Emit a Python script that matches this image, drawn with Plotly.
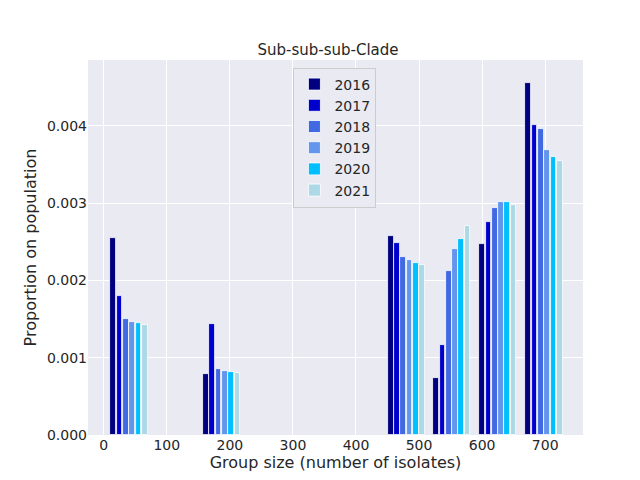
import plotly.graph_objects as go

years = ["2016", "2017", "2018", "2019", "2020", "2021"]
group_x = [15, 162, 455, 527, 600, 673]
values = {
    "2016": [0.00255, 0.00079, 0.00257, 0.00074, 0.00247, 0.00455],
    "2017": [0.00180, 0.00143, 0.00248, 0.00116, 0.00276, 0.00401],
    "2018": [0.00150, 0.00086, 0.00230, 0.00212, 0.00293, 0.00396],
    "2019": [0.00146, 0.00083, 0.00226, 0.00241, 0.00301, 0.00368],
    "2020": [0.00145, 0.00082, 0.00223, 0.00254, 0.00301, 0.00360],
    "2021": [0.00142, 0.00080, 0.00220, 0.00270, 0.00297, 0.00355],
}
colors = ["#000080", "#0000cd", "#4169e1", "#6495ed", "#00bfff", "#add8e6"]

fig = go.Figure()
for i, (yr, col) in enumerate(zip(years, colors)):
    fig.add_trace(go.Bar(
        x=[g + i * 10 for g in group_x], y=values[yr], name=yr,
        width=9, marker=dict(color=col, line=dict(color="white", width=0.8))))

axis = dict(showgrid=True, gridcolor="white", gridwidth=1.2, zeroline=False,
            showline=False, ticks="", automargin=False,
            tickfont=dict(size=14, color="#262626"))
fig.update_layout(
    width=640, height=480, margin=dict(l=80, r=65, t=52, b=53),
    paper_bgcolor="white", plot_bgcolor="#EAEAF2",
    font=dict(family="DejaVu Sans", color="#262626"),
    title=dict(text="Sub-sub-sub-Clade", x=0.5, xanchor="center", y=0.925,
               font=dict(size=15)),
    barmode="overlay", bargap=0,
    xaxis=dict(axis, range=[-25, 760], tickvals=list(range(0, 800, 100)),
               title=dict(text="Group size (number of isolates)", standoff=4,
                          font=dict(size=16))),
    yaxis=dict(axis, range=[0, 0.00485], tickvals=[0, 0.001, 0.002, 0.003, 0.004],
               tickformat=".3f",
               title=dict(text="Proportion on population", standoff=6,
                          font=dict(size=16))),
    legend=dict(x=0.415, y=0.98, xanchor="left", yanchor="top",
                bgcolor="#EAEAF2", bordercolor="#cccccc", borderwidth=1,
                tracegroupgap=0, font=dict(size=14)),
)
fig.write_html("out.html")
